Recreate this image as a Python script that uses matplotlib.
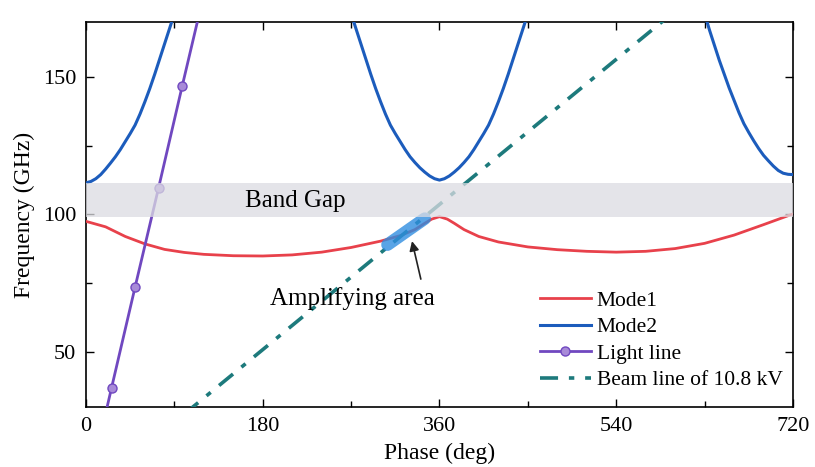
import numpy as np
import matplotlib
matplotlib.use("Agg")
import matplotlib.pyplot as plt
from matplotlib.ticker import MultipleLocator

plt.rcParams['font.family'] = ['Liberation Serif', 'DejaVu Serif']

# Mode1 dispersion (phase in deg, frequency in GHz)
mode1_phase = [0, 20, 40, 60, 80, 100, 120, 150, 180, 210, 240, 270, 300, 320, 335, 345, 352, 360,
               368, 375, 385, 400, 420, 450, 480, 510, 540, 570, 600, 630, 660, 690, 720]
mode1_freq = [97.5, 95.5, 92.0, 89.3, 87.3, 86.2, 85.5, 85.0, 84.9, 85.3, 86.3, 88.0, 90.3, 92.3, 94.5, 96.8, 98.3, 99.2,
              98.3, 96.8, 94.5, 92.0, 90.0, 88.2, 87.2, 86.6, 86.3, 86.6, 87.6, 89.5, 92.5, 96.3, 100.2]

# Mode2 dispersion
mode2_phase = [0, 5, 10, 15, 20, 25, 30, 35, 40, 45, 50, 55, 60, 65, 70, 75, 80, 85, 90, 180,
               270, 275, 280, 285, 290, 295, 300, 305, 310, 315, 320, 325, 330, 335, 340, 345, 350, 355, 360,
               365, 370, 375, 380, 385, 390, 395, 400, 405, 410, 415, 420, 425, 430, 435, 440, 445, 450, 540,
               630, 635, 640, 645, 650, 655, 660, 665, 670, 675, 680, 685, 690, 695, 700, 705, 710, 715, 720]
mode2_freq = [111.5, 112.0, 113.0, 114.5, 116.5, 118.7, 121.0, 123.6, 126.5, 129.4, 132.5, 136.5, 141.0,
              145.8, 151.0, 156.5, 162.0, 167.5, 173.0, 230.0,
              173.0, 167.5, 162.0, 156.5, 151.0, 145.8, 141.0, 136.5, 132.5, 129.4, 126.5, 123.6, 121.0,
              118.9, 117.0, 115.4, 114.0, 113.0, 112.5,
              113.0, 114.0, 115.4, 117.0, 118.9, 121.0, 123.6, 126.5, 129.4, 132.5, 136.5, 141.0,
              145.8, 151.0, 156.5, 162.0, 167.5, 173.0, 230.0,
              173.0, 167.0, 161.5, 156.0, 151.0, 146.0, 141.5, 137.0, 133.0, 129.8, 126.8, 124.0, 121.5,
              119.5, 117.6, 116.0, 115.0, 114.6, 114.5]

# Light line with markers
light_phase = [2, 26, 50, 74, 98, 122]
light_freq = [0, 36.9, 73.6, 109.8, 146.7, 183.0]

# Beam line of 10.8 kV
beam_phase = [100, 600]
beam_freq = [27.4, 174.0]

# Amplifying area along the beam line
amp_phase = [307, 345]
amp_freq = [89.0, 98.5]

band_gap = [99.0, 111.5]

fig = plt.figure(figsize=(8.15, 4.67), dpi=100)
ax = fig.add_axes([0.1055, 0.1285, 0.8675, 0.8245])

ax.plot(mode1_phase, mode1_freq, color='#e8414b', lw=2, label='Mode1', zorder=3)
ax.plot(mode2_phase, mode2_freq, color='#1c5cbc', lw=2.2, label='Mode2', zorder=3)
ax.plot(light_phase, light_freq, color='#7048c0', lw=2, marker='o', ms=6.5,
        mfc='#a88ad8', mec='#7048c0', label='Light line', zorder=3)
ax.plot(beam_phase, beam_freq, color='#1d7a7c', lw=2.6, dashes=(5, 3, 1.5, 3),
        label='Beam line of 10.8 kV', zorder=3)
ax.plot(amp_phase, amp_freq, color='#2f8de0', lw=9, alpha=0.8,
        solid_capstyle='round', zorder=4)

ax.axhspan(band_gap[0], band_gap[1], color='#dcdce2', alpha=0.75, lw=0, zorder=5)
ax.text(162, 104.8, 'Band Gap', fontsize=18, va='center', ha='left', zorder=6)

ax.text(271, 69.5, 'Amplifying area', fontsize=18, ha='center', va='center')
ax.annotate('', xy=(332, 90.3), xytext=(341, 76.5),
            arrowprops=dict(arrowstyle='-|>', color='#222222', lw=1.2,
                            mutation_scale=14, shrinkA=0, shrinkB=0))

ax.set_xlim(0, 720)
ax.set_ylim(30, 170)
ax.set_xticks([0, 180, 360, 540, 720])
ax.set_yticks([50, 100, 150])
ax.xaxis.set_minor_locator(MultipleLocator(90))
ax.yaxis.set_minor_locator(MultipleLocator(25))
ax.tick_params(which='both', direction='in', top=True, right=True, labelsize=16, width=1)
ax.tick_params(which='major', length=6, pad=7)
ax.tick_params(which='minor', length=4)
for s in ax.spines.values():
    s.set_linewidth(1.2)

ax.set_xlabel('Phase (deg)', fontsize=17, labelpad=5)
ax.set_ylabel('Frequency (GHz)', fontsize=17, labelpad=6)

ax.legend(loc='upper left', bbox_to_anchor=(0.662, 0.378), bbox_transform=fig.transFigure,
          frameon=False, fontsize=15.5, handlelength=2.4, handletextpad=0.25,
          labelspacing=0.3, borderpad=0, borderaxespad=0)

fig.savefig('out.png', dpi=100)
